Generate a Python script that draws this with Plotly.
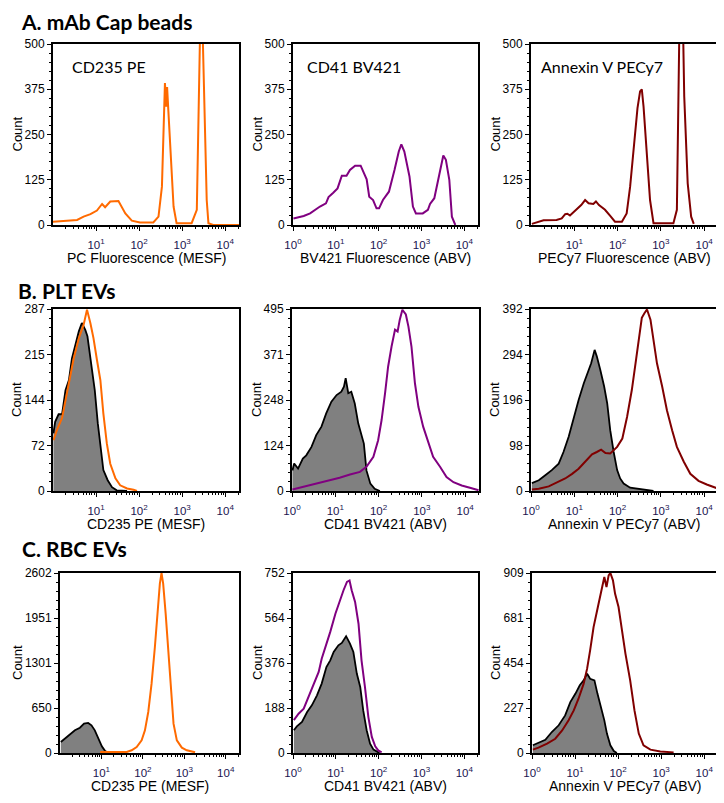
import plotly.graph_objects as go

# ---------------- DATA (x as log10 fluorescence, y as counts) ----------------
# Row A: mAb Cap beads
a1_pe_logx = [0.0, 0.32, 0.56, 0.71, 0.87, 1.02, 1.14, 1.21, 1.33, 1.52, 1.68, 1.83, 2.02, 2.33, 2.45, 2.53, 2.58, 2.60, 2.63, 2.65, 2.68, 2.74, 2.80, 2.87, 3.22, 3.34, 3.39, 3.42, 3.47, 3.51, 3.57, 3.61, 3.72, 4.32]
a1_pe_count = [9, 11, 14, 23, 30, 40, 58, 49, 65, 66, 32, 12, 7, 7, 23, 106, 318, 392, 327, 381, 314, 189, 51, 5, 5, 42, 346, 560, 560, 346, 69, 5, 0, 0]

a2_bv_logx = [0.01, 0.25, 0.40, 0.63, 0.77, 0.83, 0.94, 1.04, 1.14, 1.25, 1.33, 1.45, 1.58, 1.72, 1.78, 1.87, 1.95, 2.01, 2.10, 2.24, 2.37, 2.47, 2.53, 2.60, 2.72, 2.80, 2.87, 3.03, 3.15, 3.20, 3.30, 3.42, 3.51, 3.57, 3.65, 3.71, 3.79]
a2_bv_count = [18, 25, 32, 51, 60, 77, 89, 101, 136, 136, 152, 164, 164, 126, 78, 69, 46, 46, 69, 92, 152, 203, 223, 203, 134, 51, 32, 32, 42, 58, 74, 143, 192, 180, 125, 23, 0]

a3_cy_logx = [0.02, 0.17, 0.29, 0.59, 0.71, 0.79, 0.84, 0.90, 1.02, 1.16, 1.25, 1.33, 1.44, 1.50, 1.57, 1.71, 1.83, 1.94, 2.10, 2.21, 2.29, 2.38, 2.46, 2.52, 2.56, 2.60, 2.68, 2.75, 2.83, 3.29, 3.37, 3.41, 3.43, 3.51, 3.54, 3.62, 3.70, 3.76]
a3_cy_count = [3, 9, 13, 14, 18, 30, 31, 26, 39, 55, 69, 60, 58, 65, 55, 42, 25, 9, 9, 32, 106, 226, 323, 369, 375, 327, 189, 69, 5, 5, 42, 346, 560, 560, 355, 115, 23, 3]

# Row B: PLT EVs
b1_ctrl_logx = [0.01, 0.05, 0.13, 0.21, 0.29, 0.37, 0.44, 0.52, 0.60, 0.67, 0.75, 0.80, 0.88, 0.97, 1.04, 1.10, 1.17, 1.27, 1.37, 1.48, 1.72]
b1_ctrl_count = [91, 109, 121, 121, 159, 175, 209, 233, 252, 265, 254, 244, 202, 159, 107, 70, 33, 17, 6, 1, 0]
b1_pe_logx = [0.01, 0.09, 0.21, 0.29, 0.40, 0.48, 0.60, 0.71, 0.79, 0.87, 0.94, 1.02, 1.10, 1.17, 1.25, 1.33, 1.45, 1.56, 1.72, 1.87, 1.95]
b1_pe_count = [80, 96, 115, 141, 181, 209, 241, 262, 286, 264, 241, 207, 175, 122, 75, 43, 20, 9, 4, 2, 0]

b2_ctrl_logx = [0.01, 0.05, 0.14, 0.25, 0.33, 0.45, 0.56, 0.68, 0.79, 0.91, 1.03, 1.14, 1.20, 1.24, 1.30, 1.37, 1.45, 1.53, 1.66, 1.72, 1.81, 1.91, 1.99, 2.03]
b2_ctrl_count = [56, 75, 61, 88, 97, 120, 152, 175, 211, 243, 261, 270, 284, 307, 266, 270, 238, 184, 129, 56, 20, 6, 2, 0]
b2_bv_logx = [0.01, 0.18, 0.41, 0.64, 0.87, 1.10, 1.34, 1.57, 1.72, 1.88, 1.99, 2.07, 2.15, 2.22, 2.30, 2.38, 2.44, 2.49, 2.55, 2.63, 2.69, 2.76, 2.84, 2.92, 3.03, 3.15, 3.26, 3.42, 3.57, 3.73, 3.92, 4.11, 4.31]
b2_bv_count = [4, 9, 15, 22, 29, 36, 45, 52, 66, 93, 138, 193, 266, 338, 393, 439, 434, 466, 493, 480, 447, 393, 293, 229, 175, 129, 93, 66, 38, 24, 15, 9, 2]

b3_ctrl_logx = [0.02, 0.18, 0.33, 0.48, 0.64, 0.75, 0.87, 0.99, 1.10, 1.22, 1.31, 1.39, 1.47, 1.52, 1.60, 1.69, 1.76, 1.83, 1.91, 1.99, 2.06, 2.14, 2.29, 2.52, 2.68, 2.83]
b3_ctrl_count = [17, 23, 34, 45, 59, 84, 117, 160, 196, 232, 254, 275, 304, 290, 261, 225, 189, 131, 84, 45, 27, 16, 7, 4, 1, 0]
b3_cy_logx = [0.02, 0.18, 0.41, 0.60, 0.79, 0.95, 1.10, 1.25, 1.41, 1.52, 1.62, 1.72, 1.83, 1.99, 2.11, 2.22, 2.33, 2.43, 2.51, 2.56, 2.62, 2.68, 2.76, 2.83, 2.91, 3.03, 3.14, 3.26, 3.37, 3.53, 3.68, 3.87, 4.06, 4.32]
b3_cy_count = [3, 5, 10, 19, 27, 37, 48, 63, 79, 84, 89, 82, 81, 95, 113, 160, 218, 285, 340, 373, 383, 391, 369, 329, 275, 225, 174, 131, 95, 63, 37, 22, 14, 5]

# Row C: RBC EVs
c1_ctrl_logx = [0.02, 0.12, 0.24, 0.36, 0.48, 0.58, 0.68, 0.76, 0.84, 0.93, 1.01, 1.09, 1.17]
c1_ctrl_count = [159, 207, 270, 328, 366, 424, 434, 400, 328, 207, 96, 29, 0]
c1_pe_logx = [0.97, 1.61, 1.73, 1.85, 1.97, 2.05, 2.13, 2.21, 2.29, 2.35, 2.41, 2.45, 2.49, 2.55, 2.61, 2.67, 2.74, 2.82, 2.94, 3.06, 3.18, 3.26]
c1_pe_count = [14, 14, 39, 87, 183, 328, 593, 1002, 1532, 2014, 2448, 2602, 2448, 2014, 1484, 906, 424, 183, 77, 39, 19, 10]

c2_ctrl_logx = [0.02, 0.09, 0.21, 0.33, 0.44, 0.56, 0.67, 0.78, 0.87, 0.95, 1.06, 1.14, 1.24, 1.33, 1.41, 1.49, 1.57, 1.64, 1.72, 1.80, 1.88, 1.96, 2.02]
c2_ctrl_count = [95, 111, 130, 171, 199, 241, 290, 359, 387, 422, 450, 460, 488, 457, 422, 332, 276, 178, 95, 39, 14, 4, 0]
c2_bv_logx = [0.02, 0.13, 0.25, 0.36, 0.48, 0.60, 0.67, 0.79, 0.87, 0.99, 1.09, 1.18, 1.26, 1.32, 1.37, 1.45, 1.53, 1.60, 1.68, 1.76, 1.84, 1.92, 1.99, 2.07]
c2_bv_count = [137, 164, 185, 234, 283, 339, 394, 457, 506, 582, 638, 680, 715, 721, 680, 631, 540, 387, 276, 150, 67, 28, 11, 3]

c3_ctrl_logx = [0.02, 0.15, 0.31, 0.46, 0.62, 0.77, 0.89, 1.01, 1.11, 1.20, 1.28, 1.35, 1.45, 1.52, 1.60, 1.68, 1.74, 1.82, 1.90, 1.97]
c3_ctrl_count = [39, 52, 67, 106, 140, 190, 257, 300, 342, 367, 401, 375, 367, 300, 232, 165, 98, 39, 10, 0]
c3_cy_logx = [0.02, 0.15, 0.35, 0.54, 0.70, 0.85, 0.97, 1.08, 1.20, 1.28, 1.35, 1.43, 1.53, 1.60, 1.68, 1.73, 1.78, 1.82, 1.88, 1.93, 2.01, 2.09, 2.17, 2.28, 2.38, 2.48, 2.59, 2.75, 2.98, 3.29]
c3_cy_count = [17, 27, 47, 72, 114, 165, 215, 274, 350, 426, 518, 636, 737, 813, 889, 838, 897, 909, 872, 804, 737, 619, 502, 367, 215, 98, 39, 17, 8, 3]

# Axis labels / tick labels
x_titles = ["PC Fluorescence (MESF)", "BV421 Fluorescence (ABV)", "PECy7 Fluorescence (ABV)",
            "CD235 PE (MESF)", "CD41 BV421 (ABV)", "Annexin V PECy7 (ABV)",
            "CD235 PE (MESF)", "CD41 BV421 (ABV)", "Annexin V PECy7 (ABV)"]
y_maxes = [500, 500, 500, 287, 495, 392, 2602, 752, 909]
y_ticklabels = [["0", "125", "250", "375", "500"]] * 3 + [
    ["0", "72", "144", "215", "287"], ["0", "124", "248", "371", "495"], ["0", "98", "196", "294", "392"],
    ["0", "650", "1301", "1951", "2602"], ["0", "188", "376", "564", "752"], ["0", "227", "454", "681", "909"]]
x_first_decade = [1, 0, 1, 1, 0, 0, 1, 0, 0]
row_titles = ["A. mAb Cap beads", "B. PLT EVs", "C. RBC EVs"]
inset_labels = ["CD235 PE", "CD41 BV421", "Annexin V PECy7"]

# ---------------- STYLE / LAYOUT ----------------
W, H = 724, 803
OFF = 8  # the page places the figure 8px from the top-left corner (body margin)
ORANGE = "#FF6A00"
PURPLE = "#800080"
DRED = "#800000"
GRAY = "#808080"

boxes = [  # left, right, top, bottom in screen pixels
    (53, 239, 44, 225), (293, 478, 44, 225), (531, 718, 44, 225),
    (53, 239, 309, 491), (292, 479, 309, 491), (531, 718, 309, 491),
    (60, 239, 573, 753), (293, 478, 573, 753), (532, 718, 573, 753),
]


def px(x):
    return (x - OFF) / W


def py(y):
    return 1 - (y - OFF) / H


panels = [
    [(a1_pe_logx, a1_pe_count, ORANGE, False)],
    [(a2_bv_logx, a2_bv_count, PURPLE, False)],
    [(a3_cy_logx, a3_cy_count, DRED, False)],
    [(b1_ctrl_logx, b1_ctrl_count, "black", True), (b1_pe_logx, b1_pe_count, ORANGE, False)],
    [(b2_ctrl_logx, b2_ctrl_count, "black", True), (b2_bv_logx, b2_bv_count, PURPLE, False)],
    [(b3_ctrl_logx, b3_ctrl_count, "black", True), (b3_cy_logx, b3_cy_count, DRED, False)],
    [(c1_ctrl_logx, c1_ctrl_count, "black", True), (c1_pe_logx, c1_pe_count, ORANGE, False)],
    [(c2_ctrl_logx, c2_ctrl_count, "black", True), (c2_bv_logx, c2_bv_count, PURPLE, False)],
    [(c3_ctrl_logx, c3_ctrl_count, "black", True), (c3_cy_logx, c3_cy_count, DRED, False)],
]

AX_FONT = "Liberation Sans, Arial, sans-serif"
TITLE_FONT = "Lato, Carlito, sans-serif"
XRANGE = [0, 4.32]

fig = go.Figure()
layout = dict(width=W, height=H, margin=dict(l=0, r=0, t=0, b=0, pad=0, autoexpand=False),
              paper_bgcolor="white", plot_bgcolor="white", showlegend=False)
annotations = []

minor_x = [m * 10 ** d for d in range(0, 5) for m in range(2, 10) if m * 10 ** d < 10 ** XRANGE[1]]

for i, (box, curves) in enumerate(zip(boxes, panels)):
    l, r, t, b = box
    sfx = "" if i == 0 else str(i + 1)
    xa, ya = "x" + sfx, "y" + sfx
    for lx, cnt, col, filled in curves:
        xs = [10 ** v for v in lx]
        if filled:
            fig.add_trace(go.Scatter(x=xs, y=cnt, xaxis=xa, yaxis=ya, mode="lines",
                                     line=dict(color=col, width=1.8), fill="tozeroy",
                                     fillcolor=GRAY, hoverinfo="skip"))
        else:
            fig.add_trace(go.Scatter(x=xs, y=cnt, xaxis=xa, yaxis=ya, mode="lines",
                                     line=dict(color=col, width=2), hoverinfo="skip"))
    ymax = y_maxes[i]
    xtv = [10 ** d for d in range(x_first_decade[i], 5)]
    xtt = ["10<sup>%d</sup>" % d for d in range(x_first_decade[i], 5)]
    layout["xaxis" + sfx] = dict(
        domain=[px(l), px(r)], anchor=ya, type="log", range=XRANGE, automargin=False,
        tickmode="array", tickvals=xtv, ticktext=xtt,
        ticks="outside", ticklen=4, tickwidth=1, tickcolor="black", ticklabelstandoff=4,
        minor=dict(tickmode="array", tickvals=minor_x, ticks="outside", ticklen=2,
                   tickcolor="black", showgrid=False),
        showline=True, linecolor="black", linewidth=2, mirror=True,
        showgrid=False, zeroline=False,
        tickfont=dict(family=AX_FONT, size=11.5, color="#1a1450"),
    )
    ytv = [ymax * k / 4 for k in range(5)]
    layout["yaxis" + sfx] = dict(
        domain=[py(b), py(t)], anchor=xa, range=[0, ymax], automargin=False,
        tickmode="array", tickvals=ytv, ticktext=y_ticklabels[i],
        ticks="outside", ticklen=4, tickwidth=1, tickcolor="black",
        minor=dict(tickmode="array", tickvals=[ymax * k / 20 for k in range(21) if k % 5],
                   ticks="outside", ticklen=2, tickcolor="black", showgrid=False),
        showline=True, linecolor="black", linewidth=2, mirror=True,
        showgrid=False, zeroline=False,
        tickfont=dict(family=AX_FONT, size=12, color="black"),
    )
    # x axis title
    annotations.append(dict(text=x_titles[i], xref="paper", yref="paper",
                            x=px((l + r) / 2), y=py(b + 33), xanchor="center", yanchor="middle",
                            showarrow=False, font=dict(family=AX_FONT, size=14, color="black")))
    # y axis title
    col_x = [17, 257, 495][i % 3]
    annotations.append(dict(text="Count", xref="paper", yref="paper", textangle=-90,
                            x=px(col_x), y=py((t + b) / 2), xanchor="center", yanchor="middle",
                            showarrow=False, font=dict(family=AX_FONT, size=13, color="black")))

# row titles
for txt, (x, y) in zip(row_titles, [(19, 22), (16, 290), (20, 548)]):
    annotations.append(dict(text="<b>%s</b>" % txt, xref="paper", yref="paper",
                            x=px(x), y=py(y), xanchor="left", yanchor="middle",
                            showarrow=False, font=dict(family=TITLE_FONT, size=21, color="black")))
# inset labels in row A
for txt, x in zip(inset_labels, [70, 305, 539]):
    annotations.append(dict(text=txt, xref="paper", yref="paper",
                            x=px(x), y=py(67), xanchor="left", yanchor="middle",
                            showarrow=False, font=dict(family=TITLE_FONT, size=16, color="black")))

layout["annotations"] = annotations
fig.update_layout(**layout)
fig.write_html("out.html")
